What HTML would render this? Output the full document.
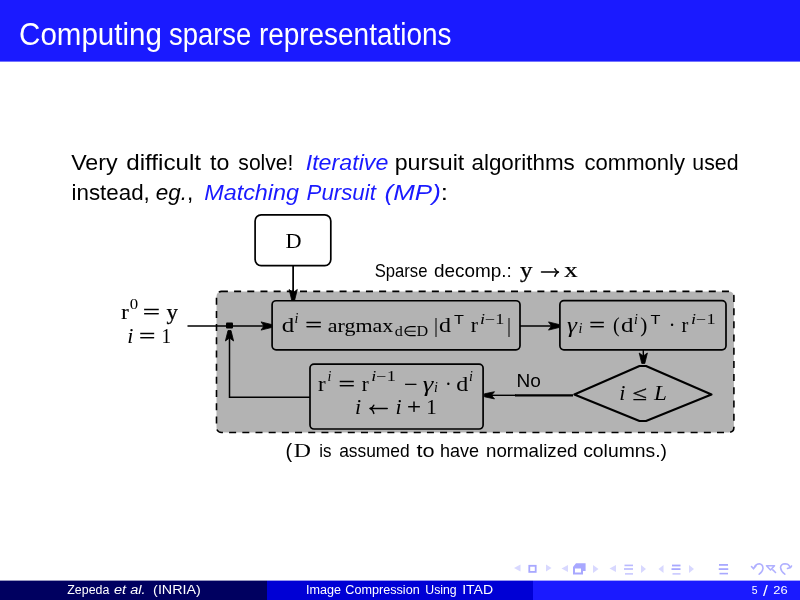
<!DOCTYPE html>
<html><head><meta charset="utf-8">
<style>
html,body{margin:0;padding:0;width:800px;height:600px;overflow:hidden;background:#fff}
svg{display:block;will-change:transform}
</style></head><body>
<svg width="800" height="600" viewBox="0 0 800 600">

<rect x="0" y="0" width="800" height="61.6" fill="#1a1aff"/>
<rect x="0" y="580.6" width="267" height="19.4" fill="#000060"/>
<rect x="267" y="580.6" width="266" height="19.4" fill="#0000d5"/>
<rect x="533" y="580.6" width="267" height="19.4" fill="#1a1aff"/>
<!-- D box -->
<rect x="255.1" y="214.9" width="75.7" height="50.7" rx="6" fill="#fff" stroke="#000" stroke-width="1.7"/>
<!-- container -->
<rect x="216.5" y="291.4" width="517.4" height="141.1" rx="5" fill="#b3b3b3" stroke="#000" stroke-width="1.6" stroke-dasharray="7,6.186" stroke-dashoffset="0.6"/>
<line x1="293.2" y1="265.6" x2="293.2" y2="292" stroke="#000" stroke-width="1.4"/>
<line x1="293.2" y1="290" x2="293.2" y2="293" stroke="#000" stroke-width="1.4"/>
<!-- boxes -->
<rect x="272.1" y="300.75" width="247.9" height="49.1" rx="4" fill="#b3b3b3" stroke="#000" stroke-width="1.7"/>
<rect x="559.9" y="300.7" width="166.1" height="49.1" rx="4" fill="#b3b3b3" stroke="#000" stroke-width="1.7"/>
<rect x="310" y="364.1" width="173.1" height="64.9" rx="4" fill="#b3b3b3" stroke="#000" stroke-width="1.7"/>
<path d="M639.5,366 L646,366 L711.5,394.5 L646,421 L639.5,421 L574.3,394.5 Z" fill="#b3b3b3" stroke="#000" stroke-width="2.1" stroke-linejoin="round"/>
<!-- lines -->
<line x1="293.2" y1="265.6" x2="293.2" y2="296" stroke="#000" stroke-width="1.4"/>
<path d="M291.70,300.00 L289.10,289.50 L293.20,292.50 L297.30,289.50 L294.70,300.00 Z" fill="#000" stroke="#000" stroke-width="0.8" stroke-linejoin="round"/>
<line x1="187.5" y1="326" x2="268" y2="326" stroke="#000" stroke-width="1.5"/>
<path d="M271.50,327.50 L261.00,330.10 L264.00,326.00 L261.00,321.90 L271.50,324.50 Z" fill="#000" stroke="#000" stroke-width="0.8" stroke-linejoin="round"/>
<rect x="226" y="322.5" width="7" height="6" rx="1" fill="#000"/>
<line x1="520" y1="326" x2="555" y2="326" stroke="#000" stroke-width="1.5"/>
<path d="M559.00,327.50 L548.50,330.10 L551.50,326.00 L548.50,321.90 L559.00,324.50 Z" fill="#000" stroke="#000" stroke-width="0.8" stroke-linejoin="round"/>
<line x1="643.3" y1="349.9" x2="643.3" y2="360" stroke="#000" stroke-width="1.4"/>
<path d="M641.80,363.50 L639.20,353.00 L643.30,356.00 L647.40,353.00 L644.80,363.50 Z" fill="#000" stroke="#000" stroke-width="0.8" stroke-linejoin="round"/>
<line x1="515" y1="395.3" x2="573" y2="395.3" stroke="#000" stroke-width="2.3"/>
<line x1="488" y1="395.3" x2="516" y2="395.3" stroke="#000" stroke-width="1.4"/>
<path d="M484.50,393.80 L494.50,391.70 L491.50,395.30 L494.50,398.90 L484.50,396.80 Z" fill="#000" stroke="#000" stroke-width="0.8" stroke-linejoin="round"/>
<g fill="none" stroke="#000" stroke-width="1.5" stroke-linecap="round" stroke-linejoin="round">
<line x1="370.5" y1="408.6" x2="387.2" y2="408.6"/>
<path d="M373.8,405.2 Q372.5,408 370,408.6 Q372.5,409.2 373.8,413.4"/>
<line x1="541.5" y1="272.1" x2="558" y2="272.1"/>
<path d="M554.9,268.7 Q556,271.4 558.5,272.1 Q556,272.8 554.9,276.3"/>
</g>
<polyline points="310,397.3 229.5,397.3 229.5,336" fill="none" stroke="#000" stroke-width="1.5"/>
<path d="M231.00,330.50 L233.60,341.00 L229.50,338.00 L225.40,341.00 L228.00,330.50 Z" fill="#000" stroke="#000" stroke-width="0.8" stroke-linejoin="round"/>


<g fill="#d8d8ff">
<path d="M514,568 L520.5,564.5 L520.5,571.5 Z"/>
<path d="M551.5,568 L546,564.5 L546,571.5 Z"/>
<path d="M561.5,568.5 L568,565 L568,572 Z"/>
<path d="M598.5,569 L593,565 L593,573 Z"/>
<path d="M609.5,568.5 L616,565 L616,572 Z"/>
<path d="M646,569 L641,565 L641,573 Z"/>
<path d="M658.5,569 L663.5,565 L663.5,573 Z"/>
<path d="M694,569 L689,565 L689,573 Z"/>
</g>
<g fill="none" stroke="#a8a8ff" stroke-width="1.8">
<rect x="529.3" y="565.8" width="6.4" height="6.1"/>
</g>
<g fill="#a8a8ff">
<path d="M573,567 L576,563.3 L585.6,563.3 L585.6,571 L583,571 L583,574.5 L573,574.5 Z M575,568.5 L575,572.5 L581,572.5 L581,568.5 Z" fill-rule="evenodd"/>
<rect x="624.5" y="564.6" width="8.5" height="1.6" opacity="0.8"/>
<rect x="624" y="568.2" width="9" height="1.6" opacity="0.8"/>
<rect x="625" y="573.2" width="8" height="1.4" opacity="0.7"/>
<rect x="672" y="564.6" width="8.5" height="1.8"/>
<rect x="671.5" y="568.2" width="9" height="1.8"/>
<rect x="672.5" y="573.2" width="8" height="1.4" opacity="0.7"/>
<rect x="719" y="564" width="9" height="1.8"/>
<rect x="718.75" y="568.2" width="9.5" height="1.8"/>
<rect x="719.5" y="572.8" width="8.5" height="1.6"/>
</g>
<g fill="none" stroke="#b0b0ff" stroke-width="1.6" stroke-linecap="round" stroke-linejoin="round">
<path d="M751.5,566.5 L753.5,568.8 L756,565.8"/>
<path d="M754.5,567 Q756,563.8 759.5,563.8 Q763,564.5 763,568.5 Q762.5,572 759.2,574.2"/>
<path d="M766.5,565.8 L774.5,565.8 L770.5,570 Z"/>
<path d="M772.8,569.8 L775.5,572.5"/>
<path d="M790,567.5 Q789,563.8 785,563.8 Q781,564 780.5,567.5 Q781,571.5 784.8,574.2"/>
<path d="M787.5,568.5 L790.5,567.5 L791.5,566"/>
</g>

<text x="19.09" y="45" font-family="Liberation Sans" font-size="31" fill="#fff" textLength="142.74" lengthAdjust="spacingAndGlyphs">Computing</text>
<text x="168.97" y="45" font-family="Liberation Sans" font-size="31" fill="#fff" textLength="82.31" lengthAdjust="spacingAndGlyphs">sparse</text>
<text x="258.92" y="45" font-family="Liberation Sans" font-size="31" fill="#fff" textLength="192.53" lengthAdjust="spacingAndGlyphs">representations</text>
<text x="71.17" y="170" font-family="Liberation Sans" font-size="22.5" fill="#000" textLength="46.49" lengthAdjust="spacingAndGlyphs">Very</text>
<text x="126.22" y="170" font-family="Liberation Sans" font-size="22.5" fill="#000" textLength="74.86" lengthAdjust="spacingAndGlyphs">difficult</text>
<text x="210.00" y="170" font-family="Liberation Sans" font-size="22.5" fill="#000" textLength="19.31" lengthAdjust="spacingAndGlyphs">to</text>
<text x="238.33" y="170" font-family="Liberation Sans" font-size="22.5" fill="#000" textLength="55.12" lengthAdjust="spacingAndGlyphs">solve!</text>
<text x="305.72" y="170" font-family="Liberation Sans" font-size="22.5" fill="#1a1aff" font-style="italic" textLength="82.62" lengthAdjust="spacingAndGlyphs">Iterative</text>
<text x="394.69" y="170" font-family="Liberation Sans" font-size="22.5" fill="#000" textLength="69.61" lengthAdjust="spacingAndGlyphs">pursuit</text>
<text x="471.49" y="170" font-family="Liberation Sans" font-size="22.5" fill="#000" textLength="103.30" lengthAdjust="spacingAndGlyphs">algorithms</text>
<text x="584.50" y="170" font-family="Liberation Sans" font-size="22.5" fill="#000" textLength="100.53" lengthAdjust="spacingAndGlyphs">commonly</text>
<text x="692.30" y="170" font-family="Liberation Sans" font-size="22.5" fill="#000" textLength="46.18" lengthAdjust="spacingAndGlyphs">used</text>
<text x="71.49" y="199.5" font-family="Liberation Sans" font-size="22.5" fill="#000" textLength="78.31" lengthAdjust="spacingAndGlyphs">instead,</text>
<text x="155.75" y="199.5" font-family="Liberation Sans" font-size="22.5" fill="#000" textLength="37.55" lengthAdjust="spacingAndGlyphs"><tspan font-style="italic">eg.</tspan>,</text>
<text x="204.23" y="199.5" font-family="Liberation Sans" font-size="22.5" fill="#1a1aff" font-style="italic" textLength="94.83" lengthAdjust="spacingAndGlyphs">Matching</text>
<text x="306.50" y="199.5" font-family="Liberation Sans" font-size="22.5" fill="#1a1aff" font-style="italic" textLength="69.44" lengthAdjust="spacingAndGlyphs">Pursuit</text>
<text x="384.62" y="199.5" font-family="Liberation Sans" font-size="22.5" fill="#000" textLength="63.40" lengthAdjust="spacingAndGlyphs"><tspan fill="#1a1aff" font-style="italic">(MP)</tspan>:</text>
<text x="285.52" y="458.4" font-family="Liberation Sans" font-size="20" fill="#000" textLength="6.67" lengthAdjust="spacingAndGlyphs">(</text>
<text x="293.75" y="456.6" font-family="Liberation Serif" font-size="19" fill="#000" textLength="17.17" lengthAdjust="spacingAndGlyphs">D</text>
<text x="319.30" y="456.6" font-family="Liberation Sans" font-size="18.5" fill="#000" textLength="12.24" lengthAdjust="spacingAndGlyphs">is</text>
<text x="339.13" y="456.6" font-family="Liberation Sans" font-size="18.5" fill="#000" textLength="70.58" lengthAdjust="spacingAndGlyphs">assumed</text>
<text x="416.50" y="456.6" font-family="Liberation Sans" font-size="18.5" fill="#000" textLength="18.10" lengthAdjust="spacingAndGlyphs">to</text>
<text x="440.03" y="456.6" font-family="Liberation Sans" font-size="18.5" fill="#000" textLength="39.07" lengthAdjust="spacingAndGlyphs">have</text>
<text x="485.99" y="456.6" font-family="Liberation Sans" font-size="18.5" fill="#000" textLength="91.53" lengthAdjust="spacingAndGlyphs">normalized</text>
<text x="583.19" y="456.6" font-family="Liberation Sans" font-size="18.5" fill="#000" textLength="83.81" lengthAdjust="spacingAndGlyphs">columns.)</text>
<text x="374.63" y="277.4" font-family="Liberation Sans" font-size="18.5" fill="#000" textLength="52.81" lengthAdjust="spacingAndGlyphs">Sparse</text>
<text x="434.08" y="277.4" font-family="Liberation Sans" font-size="18.5" fill="#000" textLength="77.77" lengthAdjust="spacingAndGlyphs">decomp.:</text>
<text x="519.91" y="277.4" font-family="Liberation Serif" font-size="20" fill="#000" stroke="#000" stroke-width="0.25" textLength="12.50" lengthAdjust="spacingAndGlyphs">y</text>
<text x="564.22" y="277.4" font-family="Liberation Serif" font-size="20" fill="#000" stroke="#000" stroke-width="0.2" textLength="13.38" lengthAdjust="spacingAndGlyphs">x</text>
<text x="516.42" y="387" font-family="Liberation Sans" font-size="18.5" fill="#000" textLength="24.32" lengthAdjust="spacingAndGlyphs">No</text>
<text x="67.30" y="594" font-family="Liberation Sans" font-size="12.5" fill="#fff" textLength="42.02" lengthAdjust="spacingAndGlyphs">Zepeda</text>
<text x="114.00" y="594" font-family="Liberation Sans" font-size="12.5" fill="#fff" font-style="italic" textLength="31.51" lengthAdjust="spacingAndGlyphs">et al.</text>
<text x="153.12" y="594" font-family="Liberation Sans" font-size="12.5" fill="#fff" textLength="47.77" lengthAdjust="spacingAndGlyphs">(INRIA)</text>
<text x="306.08" y="594" font-family="Liberation Sans" font-size="12.5" fill="#fff" textLength="35.01" lengthAdjust="spacingAndGlyphs">Image</text>
<text x="345.39" y="594" font-family="Liberation Sans" font-size="12.5" fill="#fff" textLength="74.28" lengthAdjust="spacingAndGlyphs">Compression</text>
<text x="425.25" y="594" font-family="Liberation Sans" font-size="12.5" fill="#fff" textLength="31.45" lengthAdjust="spacingAndGlyphs">Using</text>
<text x="462.15" y="594" font-family="Liberation Sans" font-size="12.5" fill="#fff" textLength="30.95" lengthAdjust="spacingAndGlyphs">ITAD</text>
<text x="751.79" y="593.6" font-family="Liberation Sans" font-size="11" fill="#fff" textLength="5.83" lengthAdjust="spacingAndGlyphs">5</text>
<text x="763.14" y="596" font-family="Liberation Sans" font-size="14" fill="#fff" textLength="4.75" lengthAdjust="spacingAndGlyphs">/</text>
<text x="773.36" y="593.6" font-family="Liberation Sans" font-size="11" fill="#fff" textLength="14.38" lengthAdjust="spacingAndGlyphs">26</text>
<text x="121.29" y="319.3" font-family="Liberation Serif" font-size="20" fill="#000" stroke="#000" stroke-width="0.2" textLength="7.51" lengthAdjust="spacingAndGlyphs">r</text>
<text x="129.84" y="309.2" font-family="Liberation Serif" font-size="14" fill="#000" textLength="8.40" lengthAdjust="spacingAndGlyphs">0</text>
<text x="142.67" y="319.3" font-family="Liberation Serif" font-size="20" fill="#000" stroke="#000" stroke-width="0.3" textLength="17.28" lengthAdjust="spacingAndGlyphs">=</text>
<text x="166.54" y="319.3" font-family="Liberation Serif" font-size="20" fill="#000" stroke="#000" stroke-width="0.25" textLength="11.45" lengthAdjust="spacingAndGlyphs">y</text>
<text x="127.19" y="342.7" font-family="Liberation Serif" font-size="20" fill="#000" font-style="italic" textLength="6.12" lengthAdjust="spacingAndGlyphs">i</text>
<text x="139.09" y="342.7" font-family="Liberation Serif" font-size="20" fill="#000" stroke="#000" stroke-width="0.3" textLength="16.39" lengthAdjust="spacingAndGlyphs">=</text>
<text x="161.62" y="342.7" font-family="Liberation Serif" font-size="20" fill="#000" stroke="#000" stroke-width="0.02" textLength="9.56" lengthAdjust="spacingAndGlyphs">1</text>
<text x="281.81" y="331.5" font-family="Liberation Serif" font-size="20" fill="#000" stroke="#000" stroke-width="0.02" textLength="12.50" lengthAdjust="spacingAndGlyphs">d</text>
<text x="294.40" y="323.25" font-family="Liberation Serif" font-size="14" fill="#000" font-style="italic" textLength="3.89" lengthAdjust="spacingAndGlyphs">i</text>
<text x="305.25" y="331.5" font-family="Liberation Serif" font-size="20" fill="#000" stroke="#000" stroke-width="0.3" textLength="16.86" lengthAdjust="spacingAndGlyphs">=</text>
<text x="327.77" y="331.5" font-family="Liberation Serif" font-size="18" fill="#000" stroke="#000" stroke-width="0.02" textLength="65.45" lengthAdjust="spacingAndGlyphs">argmax</text>
<text x="394.69" y="336" font-family="Liberation Serif" font-size="14" fill="#000" textLength="33.61" lengthAdjust="spacingAndGlyphs">d∈D</text>
<text x="434.10" y="331.5" font-family="Liberation Serif" font-size="20" fill="#000" stroke="#000" stroke-width="0.02" textLength="4.02" lengthAdjust="spacingAndGlyphs">|</text>
<text x="438.94" y="331.5" font-family="Liberation Serif" font-size="20" fill="#000" stroke="#000" stroke-width="0.02" textLength="12.00" lengthAdjust="spacingAndGlyphs">d</text>
<text x="454.07" y="323.8" font-family="Liberation Sans" font-size="13" fill="#000" textLength="9.94" lengthAdjust="spacingAndGlyphs">T</text>
<text x="470.67" y="331.5" font-family="Liberation Serif" font-size="20" fill="#000" stroke="#000" stroke-width="0.02" textLength="7.24" lengthAdjust="spacingAndGlyphs">r</text>
<text x="479.92" y="323.8" font-family="Liberation Serif" font-size="14" fill="#000" font-style="italic" textLength="24.44" lengthAdjust="spacingAndGlyphs">i<tspan font-style="normal">−1</tspan></text>
<text x="507.00" y="331.5" font-family="Liberation Serif" font-size="20" fill="#000" stroke="#000" stroke-width="0.02" textLength="4.02" lengthAdjust="spacingAndGlyphs">|</text>
<text x="566.90" y="331.5" font-family="Liberation Serif" font-size="20" fill="#000" font-style="italic" textLength="9.96" lengthAdjust="spacingAndGlyphs">γ</text>
<text x="578.50" y="332.5" font-family="Liberation Serif" font-size="14" fill="#000" font-style="italic" textLength="3.89" lengthAdjust="spacingAndGlyphs">i</text>
<text x="589.30" y="331.5" font-family="Liberation Serif" font-size="20" fill="#000" stroke="#000" stroke-width="0.3" textLength="15.79" lengthAdjust="spacingAndGlyphs">=</text>
<text x="613.00" y="331.5" font-family="Liberation Serif" font-size="20" fill="#000" stroke="#000" stroke-width="0.02" textLength="6.67" lengthAdjust="spacingAndGlyphs">(</text>
<text x="621.14" y="331.5" font-family="Liberation Serif" font-size="20" fill="#000" stroke="#000" stroke-width="0.02" textLength="12.50" lengthAdjust="spacingAndGlyphs">d</text>
<text x="634.00" y="323.5" font-family="Liberation Serif" font-size="14" fill="#000" font-style="italic" textLength="3.89" lengthAdjust="spacingAndGlyphs">i</text>
<text x="640.35" y="331.5" font-family="Liberation Serif" font-size="20" fill="#000" stroke="#000" stroke-width="0.02" textLength="7.08" lengthAdjust="spacingAndGlyphs">)</text>
<text x="650.46" y="323.5" font-family="Liberation Sans" font-size="13" fill="#000" textLength="9.94" lengthAdjust="spacingAndGlyphs">T</text>
<text x="668.75" y="331.5" font-family="Liberation Serif" font-size="20" fill="#000" stroke="#000" stroke-width="0.02" textLength="6.67" lengthAdjust="spacingAndGlyphs">·</text>
<text x="681.59" y="331.5" font-family="Liberation Serif" font-size="20" fill="#000" stroke="#000" stroke-width="0.02" textLength="6.82" lengthAdjust="spacingAndGlyphs">r</text>
<text x="691.08" y="323.5" font-family="Liberation Serif" font-size="14" fill="#000" font-style="italic" textLength="24.44" lengthAdjust="spacingAndGlyphs">i<tspan font-style="normal">−1</tspan></text>
<text x="318.14" y="390.8" font-family="Liberation Serif" font-size="20" fill="#000" stroke="#000" stroke-width="0.02" textLength="7.63" lengthAdjust="spacingAndGlyphs">r</text>
<text x="327.50" y="380.7" font-family="Liberation Serif" font-size="14" fill="#000" font-style="italic" textLength="3.89" lengthAdjust="spacingAndGlyphs">i</text>
<text x="338.48" y="390.8" font-family="Liberation Serif" font-size="20" fill="#000" stroke="#000" stroke-width="0.3" textLength="16.52" lengthAdjust="spacingAndGlyphs">=</text>
<text x="361.84" y="390.8" font-family="Liberation Serif" font-size="20" fill="#000" stroke="#000" stroke-width="0.02" textLength="6.96" lengthAdjust="spacingAndGlyphs">r</text>
<text x="371.32" y="381.25" font-family="Liberation Serif" font-size="14" fill="#000" font-style="italic" textLength="24.44" lengthAdjust="spacingAndGlyphs">i<tspan font-style="normal">−1</tspan></text>
<text x="404.09" y="390.8" font-family="Liberation Serif" font-size="20" fill="#000" stroke="#000" stroke-width="0.25" textLength="13.38" lengthAdjust="spacingAndGlyphs">−</text>
<text x="422.75" y="390.8" font-family="Liberation Serif" font-size="20" fill="#000" font-style="italic" textLength="10.58" lengthAdjust="spacingAndGlyphs">γ</text>
<text x="434.00" y="392" font-family="Liberation Serif" font-size="14" fill="#000" font-style="italic" textLength="3.89" lengthAdjust="spacingAndGlyphs">i</text>
<text x="445.00" y="390.8" font-family="Liberation Serif" font-size="20" fill="#000" stroke="#000" stroke-width="0.02" textLength="6.67" lengthAdjust="spacingAndGlyphs">·</text>
<text x="456.28" y="390.8" font-family="Liberation Serif" font-size="20" fill="#000" stroke="#000" stroke-width="0.02" textLength="12.00" lengthAdjust="spacingAndGlyphs">d</text>
<text x="468.90" y="380.7" font-family="Liberation Serif" font-size="14" fill="#000" font-style="italic" textLength="3.89" lengthAdjust="spacingAndGlyphs">i</text>
<text x="355.01" y="414.1" font-family="Liberation Serif" font-size="20" fill="#000" font-style="italic" textLength="6.12" lengthAdjust="spacingAndGlyphs">i</text>
<text x="395.45" y="414.1" font-family="Liberation Serif" font-size="20" fill="#000" font-style="italic" textLength="6.12" lengthAdjust="spacingAndGlyphs">i</text>
<text x="407.03" y="414.1" font-family="Liberation Serif" font-size="20" fill="#000" stroke="#000" stroke-width="0.25" textLength="14.04" lengthAdjust="spacingAndGlyphs">+</text>
<text x="426.20" y="414.1" font-family="Liberation Serif" font-size="20" fill="#000" stroke="#000" stroke-width="0.02" textLength="10.47" lengthAdjust="spacingAndGlyphs">1</text>
<text x="619.17" y="399.9" font-family="Liberation Serif" font-size="20" fill="#000" font-style="italic" textLength="6.12" lengthAdjust="spacingAndGlyphs">i</text>
<text x="632.56" y="399.9" font-family="Liberation Serif" font-size="20" fill="#000" stroke="#000" stroke-width="0.25" textLength="14.57" lengthAdjust="spacingAndGlyphs">≤</text>
<text x="654.00" y="399.9" font-family="Liberation Serif" font-size="20" fill="#000" font-style="italic" textLength="12.84" lengthAdjust="spacingAndGlyphs">L</text>
<text x="285.43" y="247.5" font-family="Liberation Serif" font-size="20" fill="#000" textLength="16.08" lengthAdjust="spacingAndGlyphs">D</text>
</svg>
</body></html>
